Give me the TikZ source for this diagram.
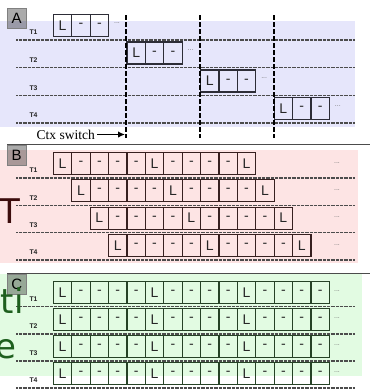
\documentclass[tikz,border=0pt]{standalone}
\usepackage{fontspec}
\setmainfont{Liberation Sans}
\newfontfamily\serifA{Liberation Serif}
\newfontfamily\dejavu{DejaVu Sans}
\usetikzlibrary{arrows.meta}
\definecolor{bgA}{RGB}{230,230,251}
\definecolor{bgB}{RGB}{253,228,228}
\definecolor{bgC}{RGB}{226,251,226}
\definecolor{edgeA}{RGB}{45,45,55}
\definecolor{edgeB}{RGB}{55,32,32}
\definecolor{edgeC}{RGB}{38,66,38}
\definecolor{bigred}{RGB}{60,12,12}
\definecolor{biggreen}{RGB}{30,95,30}
\tikzset{
  cellbox/.style={draw=#1, line width=1.1pt, minimum width=18.4pt, minimum height=22pt,
    inner sep=0pt, anchor=south west, font=\fontsize{14}{14}\selectfont, text=black!85},
  tlab/.style={font=\bfseries\fontsize{6.8}{7}\selectfont, text=black!85, inner sep=0pt},
  dotline/.style={draw=black!70, line width=1.3pt, dash pattern=on 0.8pt off 0.5pt},
  dotsmark/.style={font=\fontsize{7}{7}\selectfont, text=black!55, inner sep=0pt},
  sepline/.style={draw=black!70, line width=1pt},
  secbox/.style={draw=black!50, fill=black, fill opacity=0.33, text opacity=1,
    minimum width=19pt, minimum height=20pt, inner sep=0pt, anchor=north west,
    font=\fontsize{15}{15}\selectfont},
  ctxline/.style={draw=black, line width=2pt, dash pattern=on 4.5pt off 2.5pt},
  bigletter/.style={font=\dejavu\fontsize{34}{34}\selectfont, inner sep=0pt, anchor=base west}
}
\begin{document}
\begin{tikzpicture}[x=1pt,y=-1pt]
\useasboundingbox (0,0) rectangle (370,389);
% backgrounds
\fill[bgA] (0,21) rectangle (355,127);
\fill[bgB] (0,150) rectangle (358,263);
\fill[bgC] (0,274) rectangle (362,376);
% separators
\draw[sepline] (7,144) coordinate (sbL) -- (370,144) coordinate (sbR);
\draw[sepline] (7,273) coordinate (scL) -- (370,273) coordinate (scR);
% section labels
\node[secbox] (secA) at (7,8) {A};
\node[secbox] (secB) at (7,145) {B};
\node[secbox] (secC) at (7,274) {C};
% ---------- Section A ----------
\foreach \r/\ly in {1/40,2/67.5,3/95.5,4/123} {
  \node[tlab] (aT\r) at (33.5,\ly-7.5) {T\r};
  \draw[dotline] (16,\ly) coordinate (aL\r) -- (355,\ly) coordinate (aR\r);
  \pgfmathsetmacro\sx{52.8+73.6*(\r-1)}
  \foreach \c in {0,1,2} {
    \node[cellbox=edgeA] (aC\r-\c) at (\sx+18.4*\c,\ly-3) {\ifnum\c=0 L\else -\fi};
  }
  \node[dotsmark] (aD\r) at (\sx+3*18.4+9,\ly-17) {...};
}
\foreach \i/\vx in {1/126.4,2/200,3/273.6} {
  \draw[ctxline] (\vx,15) coordinate (vt\i) -- (\vx,138) coordinate (vb\i);
}
\node[font=\serifA\fontsize{13.5}{14}\selectfont, inner sep=0pt, anchor=east] (ctx) at (95,134.5) {Ctx switch};
\coordinate (ctxend) at (125,134.5);
\draw[-{Latex[length=7pt,width=6.5pt]}, line width=1.5pt] ([xshift=2pt]ctx.east) -- (ctxend);
% ---------- Section B ----------
\foreach \r/\ly in {1/178,2/205.3,3/232.6,4/260} {
  \node[tlab] (bT\r) at (33.5,\ly-7.5) {T\r};
  \draw[dotline] (16,\ly) coordinate (bL\r) -- (355,\ly) coordinate (bR\r);
  \pgfmathsetmacro\sx{52.8+18.4*(\r-1)}
  \foreach \c in {0,...,10} {
    \pgfmathtruncatemacro\m{mod(\c,5)}
    \node[cellbox=edgeB] (bC\r-\c) at (\sx+18.4*\c,\ly-3) {\ifnum\m=0 L\else -\fi};
  }
  \node[dotsmark] (bD\r) at (337,\ly-15) {...};
}
% ---------- Section C ----------
\foreach \r/\ly in {1/306.8,2/334,3/361,4/388} {
  \node[tlab] (cT\r) at (33.5,\ly-7.5) {T\r};
  \draw[dotline] (16,\ly) coordinate (cL\r) -- (355,\ly) coordinate (cR\r);
  \foreach \c in {0,...,14} {
    \pgfmathtruncatemacro\m{mod(\c,5)}
    \node[cellbox=edgeC] (cC\r-\c) at (52.8+18.4*\c,\ly-3) {\ifnum\m=0 L\else -\fi};
  }
  \node[dotsmark] (cD\r) at (337,\ly-16) {...};
}
% ---------- big letters ----------
\node[bigletter, text=bigred] (bigT) at (-1,223) {T};
\node[bigletter, text=biggreen] (bigti) at (0.5,313) {ti};
\node[bigletter, text=biggreen] (bige) at (-4.5,358) {e};
\end{tikzpicture}
\end{document}
